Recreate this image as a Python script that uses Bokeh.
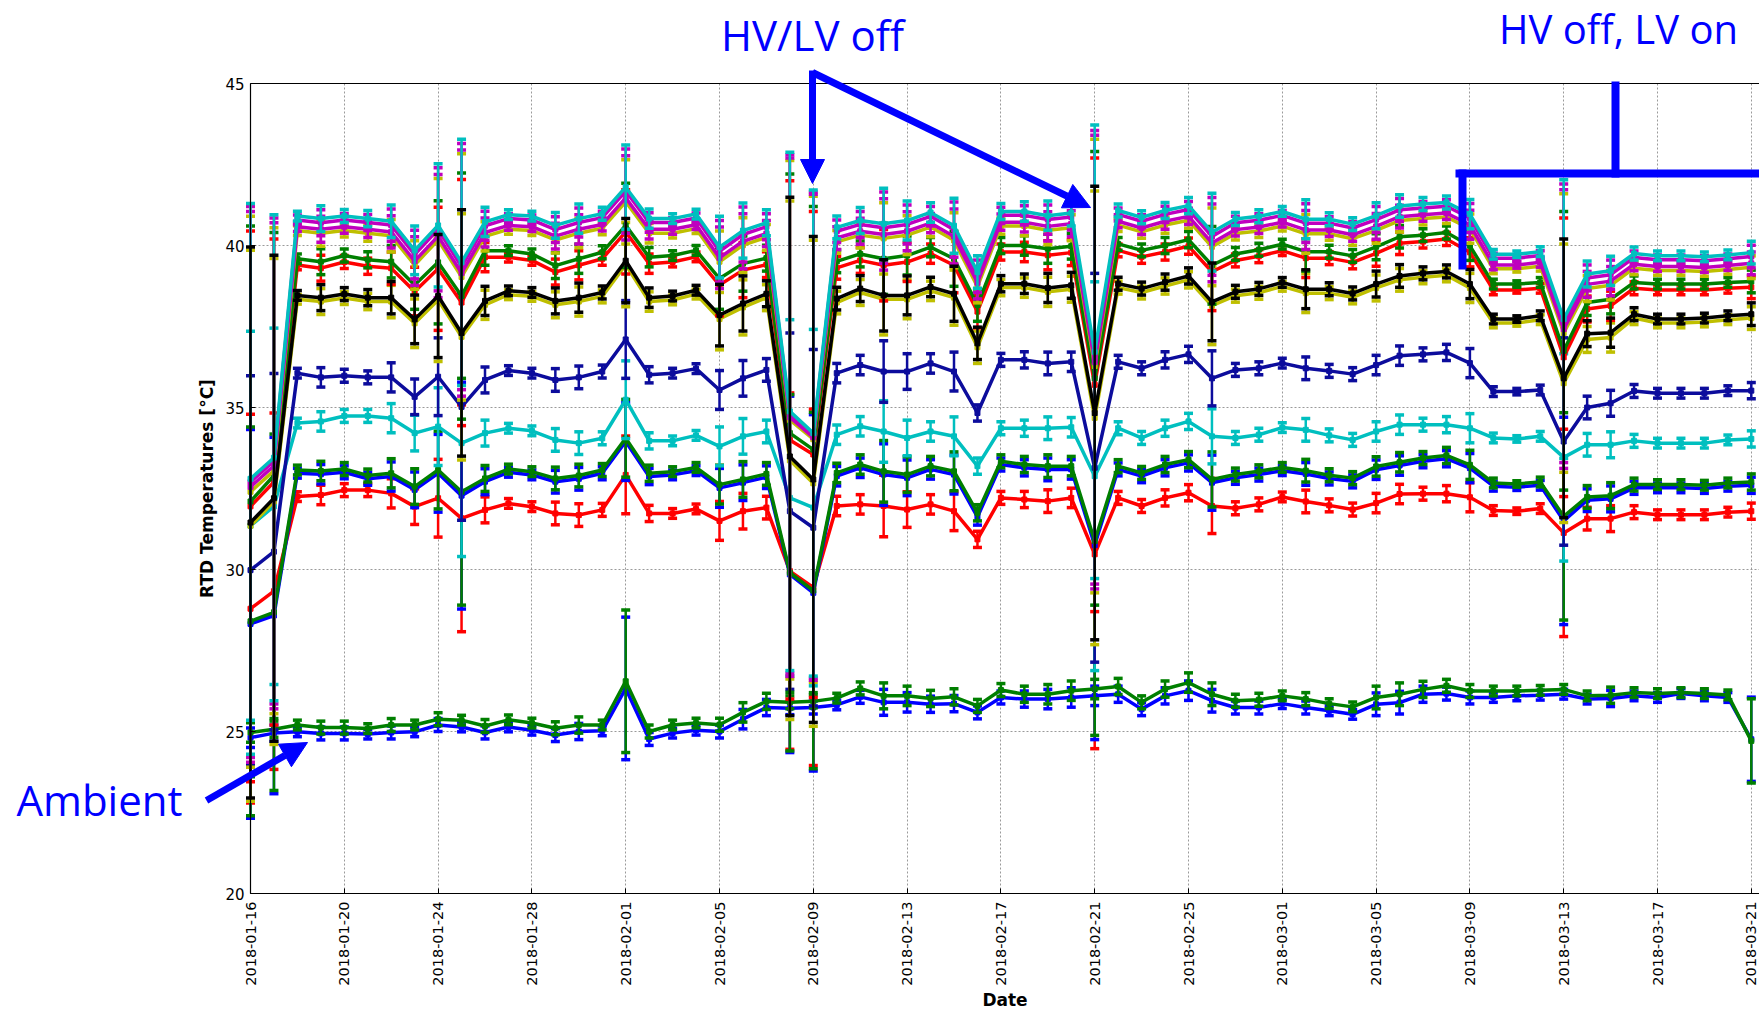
import math
import pandas as pd
from bokeh.plotting import figure
from bokeh.models import Range1d, FixedTicker, LinearAxis, Label, Arrow, NormalHead, Grid
from bokeh.embed import file_html
from bokeh.resources import INLINE

# ---------------- data ----------------
dates = [d.strftime("%Y-%m-%d") for d in pd.date_range("2018-01-16", "2018-03-21", freq="D")]
tick_labels = ["2018-01-16", "2018-01-20", "2018-01-24", "2018-01-28", "2018-02-01",
               "2018-02-05", "2018-02-09", "2018-02-13", "2018-02-17", "2018-02-21",
               "2018-02-25", "2018-03-01", "2018-03-05", "2018-03-09", "2018-03-13",
               "2018-03-17", "2018-03-21"]
y_ticks = [20, 25, 30, 35, 40, 45]

C1 = [32.80, 33.45, 40.91, 40.83, 40.91, 40.83, 40.75, 39.85, 40.62, 39.48,
      40.73, 40.95, 40.91, 40.62, 40.83, 40.98, 41.80, 40.83, 40.83, 40.97,
      39.95, 40.46, 40.70, 34.88, 34.21, 40.56, 40.77, 40.67, 40.77, 41.02,
      40.61, 39.18, 41.05, 41.05, 40.92, 41.00, 36.72, 41.08, 40.87, 41.08,
      41.23, 40.41, 40.82, 40.90, 41.05, 40.81, 40.81, 40.66, 40.92, 41.22,
      41.28, 41.33, 40.97, 39.73, 39.73, 39.81, 37.73, 39.12, 39.22, 39.75,
      39.68, 39.68, 39.65, 39.71, 39.78]
M1 = [32.70, 33.35, 40.79, 40.70, 40.79, 40.71, 40.63, 39.72, 40.50, 39.35,
      40.61, 40.83, 40.79, 40.49, 40.71, 40.86, 41.68, 40.71, 40.71, 40.85,
      39.82, 40.34, 40.58, 34.80, 34.15, 40.44, 40.65, 40.55, 40.65, 40.90,
      40.49, 39.05, 40.93, 40.93, 40.80, 40.88, 36.55, 40.96, 40.75, 40.96,
      41.11, 40.28, 40.70, 40.78, 40.93, 40.69, 40.69, 40.54, 40.80, 41.10,
      41.16, 41.21, 40.85, 39.61, 39.61, 39.69, 37.60, 39.00, 39.10, 39.63,
      39.56, 39.56, 39.53, 39.59, 39.66]
M2 = [32.55, 33.20, 40.58, 40.50, 40.58, 40.50, 40.42, 39.52, 40.29, 39.15,
      40.40, 40.62, 40.58, 40.29, 40.50, 40.65, 41.47, 40.50, 40.50, 40.64,
      39.62, 40.13, 40.37, 34.70, 34.08, 40.23, 40.44, 40.34, 40.44, 40.69,
      40.28, 38.85, 40.72, 40.72, 40.59, 40.67, 36.40, 40.75, 40.54, 40.75,
      40.90, 40.08, 40.49, 40.57, 40.72, 40.48, 40.48, 40.33, 40.59, 40.89,
      40.95, 41.00, 40.64, 39.40, 39.40, 39.48, 37.42, 38.80, 38.90, 39.42,
      39.35, 39.35, 39.32, 39.38, 39.45]
Y1 = [32.40, 33.05, 40.46, 40.38, 40.46, 40.38, 40.30, 39.40, 40.17, 39.03,
      40.28, 40.50, 40.46, 40.17, 40.38, 40.53, 41.35, 40.38, 40.38, 40.52,
      39.50, 40.01, 40.25, 34.62, 34.02, 40.11, 40.32, 40.22, 40.32, 40.57,
      40.16, 38.73, 40.60, 40.60, 40.47, 40.55, 36.28, 40.63, 40.42, 40.63,
      40.78, 39.96, 40.37, 40.45, 40.60, 40.36, 40.36, 40.21, 40.47, 40.77,
      40.83, 40.88, 40.52, 39.28, 39.28, 39.36, 37.30, 38.67, 38.77, 39.30,
      39.23, 39.23, 39.20, 39.26, 39.33]
G1 = [32.10, 32.90, 39.59, 39.50, 39.69, 39.56, 39.50, 38.78, 39.48, 38.44,
      39.84, 39.84, 39.74, 39.38, 39.59, 39.79, 40.62, 39.64, 39.69, 39.85,
      38.98, 39.44, 39.61, 34.21, 33.70, 39.51, 39.74, 39.59, 39.69, 39.95,
      39.59, 38.16, 40.00, 40.00, 39.90, 39.98, 35.90, 40.05, 39.85, 40.00,
      40.18, 39.39, 39.74, 39.87, 40.04, 39.81, 39.81, 39.68, 39.96, 40.27,
      40.32, 40.40, 39.99, 38.81, 38.81, 38.86, 36.75, 38.24, 38.34, 38.86,
      38.81, 38.81, 38.81, 38.86, 38.89]
R1 = [31.95, 32.70, 39.40, 39.30, 39.49, 39.36, 39.30, 38.58, 39.28, 38.24,
      39.64, 39.64, 39.54, 39.18, 39.39, 39.59, 40.42, 39.44, 39.49, 39.65,
      38.78, 39.24, 39.41, 34.00, 33.55, 39.31, 39.54, 39.39, 39.49, 39.75,
      39.39, 37.96, 39.80, 39.80, 39.70, 39.78, 35.70, 39.85, 39.65, 39.80,
      39.98, 39.19, 39.54, 39.67, 39.84, 39.61, 39.61, 39.48, 39.76, 40.07,
      40.12, 40.20, 39.79, 38.63, 38.63, 38.68, 36.55, 38.04, 38.14, 38.68,
      38.63, 38.63, 38.63, 38.68, 38.71]
K = [31.45, 32.20, 38.46, 38.39, 38.50, 38.39, 38.39, 37.72, 38.44, 37.30,
     38.29, 38.60, 38.55, 38.29, 38.39, 38.55, 39.53, 38.39, 38.44, 38.62,
     37.85, 38.21, 38.51, 33.49, 32.78, 38.36, 38.67, 38.46, 38.46, 38.72,
     38.51, 36.98, 38.82, 38.82, 38.69, 38.77, 34.83, 38.82, 38.67, 38.87,
     39.06, 38.26, 38.57, 38.66, 38.86, 38.65, 38.65, 38.52, 38.81, 39.06,
     39.14, 39.20, 38.81, 37.73, 37.73, 37.83, 35.90, 37.28, 37.31, 37.88,
     37.73, 37.73, 37.76, 37.83, 37.88]
Y2 = [31.35, 32.10, 38.34, 38.27, 38.38, 38.27, 38.27, 37.60, 38.32, 37.18,
      38.17, 38.48, 38.43, 38.17, 38.27, 38.43, 39.41, 38.27, 38.32, 38.50,
      37.73, 38.09, 38.39, 33.37, 32.66, 38.24, 38.55, 38.34, 38.34, 38.60,
      38.39, 36.86, 38.70, 38.70, 38.57, 38.65, 34.68, 38.70, 38.55, 38.75,
      38.94, 38.14, 38.45, 38.54, 38.74, 38.53, 38.53, 38.40, 38.69, 38.94,
      39.02, 39.08, 38.69, 37.61, 37.61, 37.71, 35.75, 37.10, 37.16, 37.76,
      37.61, 37.61, 37.64, 37.71, 37.76]
B1 = [29.98, 30.55, 36.06, 35.93, 35.98, 35.93, 35.93, 35.33, 35.95, 35.02,
      35.85, 36.14, 36.06, 35.85, 35.93, 36.11, 37.10, 36.01, 36.06, 36.20,
      35.54, 35.90, 36.16, 31.80, 31.29, 36.06, 36.31, 36.11, 36.11, 36.36,
      36.11, 34.83, 36.47, 36.47, 36.36, 36.41, 33.14, 36.41, 36.21, 36.47,
      36.64, 35.90, 36.16, 36.21, 36.37, 36.21, 36.13, 36.03, 36.31, 36.60,
      36.64, 36.70, 36.37, 35.49, 35.49, 35.54, 33.95, 35.00, 35.13, 35.51,
      35.44, 35.44, 35.44, 35.52, 35.52]
C2 = [31.35, 31.95, 34.52, 34.57, 34.74, 34.74, 34.67, 34.21, 34.41, 33.90,
      34.21, 34.36, 34.28, 34.00, 33.90, 34.05, 35.24, 33.97, 33.97, 34.14,
      33.80, 34.11, 34.26, 32.21, 31.91, 34.16, 34.42, 34.26, 34.06, 34.26,
      34.11, 33.19, 34.36, 34.36, 34.36, 34.39, 32.88, 34.36, 34.06, 34.36,
      34.57, 34.11, 34.06, 34.16, 34.38, 34.31, 34.14, 34.00, 34.26, 34.47,
      34.47, 34.47, 34.36, 34.06, 34.03, 34.11, 33.46, 33.85, 33.85, 33.97,
      33.90, 33.90, 33.90, 34.00, 34.03]
G2 = [28.40, 28.68, 33.07, 33.04, 33.10, 32.90, 32.97, 32.56, 33.07, 32.40,
      32.81, 33.10, 33.02, 32.81, 32.90, 33.07, 34.05, 32.97, 33.02, 33.15,
      32.62, 32.78, 32.95, 29.90, 29.35, 32.98, 33.24, 33.03, 32.93, 33.19,
      33.03, 31.75, 33.34, 33.24, 33.19, 33.19, 30.88, 33.19, 32.98, 33.24,
      33.39, 32.78, 32.93, 33.03, 33.15, 33.05, 32.91, 32.82, 33.18, 33.31,
      33.44, 33.52, 33.23, 32.67, 32.64, 32.70, 31.64, 32.24, 32.28, 32.62,
      32.62, 32.62, 32.60, 32.67, 32.70]
B2 = [28.32, 28.58, 32.97, 32.94, 33.00, 32.80, 32.87, 32.46, 32.97, 32.28,
      32.71, 33.00, 32.92, 32.71, 32.80, 32.97, 33.95, 32.87, 32.92, 33.05,
      32.52, 32.68, 32.85, 29.85, 29.28, 32.88, 33.14, 32.93, 32.83, 33.09,
      32.93, 31.62, 33.24, 33.14, 33.09, 33.09, 30.75, 33.09, 32.88, 33.14,
      33.29, 32.68, 32.83, 32.93, 33.05, 32.95, 32.81, 32.72, 33.08, 33.21,
      33.34, 33.42, 33.13, 32.57, 32.54, 32.60, 31.50, 32.14, 32.18, 32.52,
      32.52, 32.52, 32.50, 32.57, 32.60]
R2 = [28.79, 29.33, 32.25, 32.30, 32.45, 32.45, 32.35, 31.94, 32.20, 31.58,
      31.84, 32.04, 31.94, 31.73, 31.68, 31.84, 32.92, 31.73, 31.73, 31.87,
      31.50, 31.80, 31.91, 29.95, 29.45, 31.96, 32.01, 31.96, 31.85, 32.01,
      31.80, 30.93, 32.21, 32.16, 32.11, 32.21, 30.47, 32.21, 31.96, 32.21,
      32.37, 31.96, 31.89, 32.01, 32.24, 32.10, 31.98, 31.85, 32.05, 32.33,
      32.34, 32.34, 32.23, 31.82, 31.80, 31.88, 31.13, 31.57, 31.57, 31.77,
      31.69, 31.69, 31.69, 31.77, 31.80]
GA = [24.97, 25.07, 25.20, 25.12, 25.12, 25.09, 25.20, 25.20, 25.38, 25.35,
      25.17, 25.36, 25.26, 25.10, 25.20, 25.20, 26.55, 25.00, 25.20, 25.26,
      25.21, 25.59, 25.93, 25.90, 25.93, 26.03, 26.33, 26.10, 26.10, 26.02,
      26.07, 25.79, 26.28, 26.15, 26.15, 26.26, 26.31, 26.39, 25.90, 26.31,
      26.51, 26.15, 25.95, 25.98, 26.10, 26.00, 25.86, 25.76, 26.05, 26.15,
      26.30, 26.41, 26.25, 26.25, 26.25, 26.27, 26.30, 26.10, 26.12, 26.20,
      26.17, 26.20, 26.17, 26.13, 24.71]
BA = [24.81, 24.95, 24.99, 24.94, 24.94, 24.92, 24.97, 24.99, 25.20, 25.14,
      24.97, 25.14, 25.04, 24.89, 25.00, 25.02, 26.33, 24.77, 24.95, 25.04,
      25.00, 25.38, 25.74, 25.72, 25.74, 25.82, 26.07, 25.90, 25.90, 25.84,
      25.86, 25.59, 26.05, 26.00, 26.00, 26.05, 26.10, 26.15, 25.69, 26.10,
      26.26, 25.95, 25.74, 25.74, 25.86, 25.74, 25.64, 25.53, 25.84, 25.89,
      26.15, 26.17, 26.05, 26.05, 26.10, 26.12, 26.15, 26.00, 26.02, 26.10,
      26.05, 26.17, 26.10, 26.05, 24.76]

err_hi = [8.5, 7.5, 0.15, 0.4, 0.2, 0.25, 0.5, 0.75, 1.9, 3.8,
          0.45, 0.15, 0.15, 0.4, 0.45, 0.2, 1.3, 0.3, 0.15, 0.15,
          0.95, 0.85, 0.4, 8.0, 7.5, 0.35, 0.4, 1.1, 0.6, 0.3,
          0.85, 0.5, 0.25, 0.3, 0.45, 0.4, 7.0, 0.2, 0.2, 0.25,
          0.25, 1.2, 0.2, 0.2, 0.15, 0.6, 0.2, 0.2, 0.4, 0.35,
          0.2, 0.2, 0.45, 0.15, 0.1, 0.15, 4.3, 0.4, 0.45, 0.2,
          0.15, 0.15, 0.15, 0.15, 0.35]
err_mid = [6.0, 5.5, 0.15, 0.3, 0.2, 0.2, 0.45, 0.55, 1.2, 3.5,
           0.4, 0.15, 0.15, 0.35, 0.35, 0.2, 1.2, 0.25, 0.15, 0.15,
           0.6, 0.55, 0.35, 5.5, 5.5, 0.3, 0.3, 0.95, 0.55, 0.3,
           0.6, 0.25, 0.2, 0.25, 0.35, 0.3, 6.0, 0.2, 0.2, 0.25,
           0.25, 0.85, 0.2, 0.2, 0.15, 0.35, 0.2, 0.2, 0.3, 0.3,
           0.2, 0.25, 0.45, 0.15, 0.1, 0.15, 3.2, 0.35, 0.4, 0.2,
           0.15, 0.15, 0.15, 0.15, 0.25]
err_amb = [0.3, 0.25, 0.15, 0.2, 0.2, 0.15, 0.2, 0.15, 0.2, 0.15,
           0.2, 0.15, 0.15, 0.2, 0.25, 0.15, 2.2, 0.2, 0.15, 0.15,
           0.2, 0.3, 0.25, 0.2, 0.2, 0.15, 0.2, 0.4, 0.3, 0.25,
           0.25, 0.2, 0.2, 0.25, 0.3, 0.3, 0.3, 0.25, 0.2, 0.25,
           0.3, 0.35, 0.2, 0.2, 0.15, 0.2, 0.15, 0.15, 0.35, 0.35,
           0.25, 0.2, 0.2, 0.15, 0.15, 0.15, 0.15, 0.15, 0.25, 0.15,
           0.15, 0.15, 0.15, 0.15, 1.3]

BLUE = "#0000ff"
GREEN = "#007f00"
RED = "#ff0000"
CYAN = "#00bfbf"
MAG = "#bf00bf"
YEL = "#bfbf00"
BLACK = "#000000"
NAVY = "#0c0c9c"

series = [
    (BA, err_amb, BLUE), (GA, err_amb, GREEN),
    (R2, err_mid, RED), (B2, err_mid, BLUE), (G2, err_mid, GREEN),
    (C2, err_mid, CYAN), (B1, err_mid, NAVY),
    (Y2, err_hi, YEL), (R1, err_hi, RED), (G1, err_hi, GREEN),
    (Y1, err_hi, YEL), (M2, err_hi, MAG), (M1, err_hi, MAG), (C1, err_hi, CYAN),
    (K, err_hi, BLACK),
]

# ---------------- geometry (frame = whole canvas) ----------------
W, H = 1759, 1009
LEFT, TOP, BOTTOM = 250, 83, 116          # pixel position of the data area
PX_DAY = 23.45
PX_DEG = (H - TOP - BOTTOM) / 25.0

def dx(px):
    return (px - LEFT) / PX_DAY

def dy(py):
    return 45 - (py - TOP) / PX_DEG

x_last = dx(W)

p = figure(width=W, height=H, output_backend="svg", toolbar_location=None,
           x_range=Range1d(dx(0), dx(W)), y_range=Range1d(dy(H), dy(0)),
           x_axis_location=None, y_axis_location=None,
           min_border=0, min_border_left=0, min_border_right=0,
           min_border_top=0, min_border_bottom=0,
           background_fill_color="white", border_fill_color="white",
           outline_line_color=None)
p.grid.visible = False

tick_pos = [dates.index(t) for t in tick_labels]

# grid
GRID_KW = dict(grid_line_color="#9a9a9a", grid_line_dash="2 2", grid_line_width=1)
if "cross_bounds" in Grid.properties():
    p.add_layout(Grid(dimension=0, ticker=FixedTicker(ticks=tick_pos), bounds=(0, x_last),
                      cross_bounds=(20, 45), **GRID_KW), "center")
    p.add_layout(Grid(dimension=1, ticker=FixedTicker(ticks=y_ticks), bounds=(20, 45),
                      cross_bounds=(0, x_last), **GRID_KW), "center")
else:
    p.segment(x0=tick_pos, y0=[20] * len(tick_pos), x1=tick_pos, y1=[45] * len(tick_pos),
              line_color="#9a9a9a", line_dash="2 2", line_width=1)
    p.segment(x0=[0] * len(y_ticks), y0=y_ticks, x1=[x_last] * len(y_ticks), y1=y_ticks,
              line_color="#9a9a9a", line_dash="2 2", line_width=1)

xs = list(range(len(dates)))
for vals, err, col in series:
    lo = [v - e for v, e in zip(vals, err)]
    hi = [v + e for v, e in zip(vals, err)]
    p.segment(x0=xs, y0=lo, x1=xs, y1=hi, line_color=col, line_width=2.5)
    p.line(xs, vals, line_color=col, line_width=3.5)
    p.rect(x=xs + xs, y=lo + hi, width=9, height=3.5, width_units="screen",
           height_units="screen", fill_color=col, line_color=None)
    p.scatter(xs, vals, marker="square", size=5, fill_color=col, line_color=col)

# axes drawn at fixed data locations
AX_KW = dict(axis_line_color="black", axis_line_width=1.2, major_tick_in=5, major_tick_out=0,
             minor_tick_line_color=None, major_label_text_font="DejaVu Sans",
             major_label_text_color="black", axis_label_text_font="DejaVu Sans",
             axis_label_text_font_style="bold", axis_label_text_font_size="17px",
             axis_label_text_color="black")
xaxis = LinearAxis(fixed_location=20, bounds=(0, x_last), ticker=FixedTicker(ticks=tick_pos),
                   major_label_overrides={i: t for i, t in zip(tick_pos, tick_labels)},
                   major_label_orientation=math.pi / 2, major_label_text_font_size="14.5px",
                   major_label_standoff=8, axis_label="Date", axis_label_standoff=1, **AX_KW)
p.add_layout(xaxis, "below")
yaxis = LinearAxis(fixed_location=0, bounds=(20, 45), ticker=FixedTicker(ticks=y_ticks),
                   major_label_text_font_size="15px", major_label_standoff=6,
                   axis_label="RTD Temperatures [°C]", axis_label_standoff=5, **AX_KW)
p.add_layout(yaxis, "left")
topaxis = LinearAxis(fixed_location=45, bounds=(0, x_last), ticker=FixedTicker(ticks=[]),
                     axis_line_color="black", axis_line_width=1.2,
                     major_tick_line_color=None, minor_tick_line_color=None)
p.add_layout(topaxis, "above")

# ---------------- annotations ----------------
ANN = "#0000ff"
for txt, cx, base, fs in [("HV/LV off", 812, 34, "42px"), ("HV off, LV on", 1618, 28, "40px"),
                          ("Ambient", 99, 799, "42px")]:
    p.add_layout(Label(x=dx(cx), y=dy(base), text=txt, text_font="Open Sans",
                       text_font_size=fs, text_color=ANN, text_align="center",
                       text_baseline="alphabetic"))

def head(size):
    return NormalHead(size=size, fill_color=ANN, line_color=ANN, line_width=1)

p.add_layout(Arrow(end=head(24), x_start=dx(812), y_start=dy(70), x_end=dx(812), y_end=dy(183),
                   line_color=ANN, line_width=7))
p.add_layout(Arrow(end=head(26), x_start=dx(812), y_start=dy(72), x_end=dx(1090), y_end=dy(207),
                   line_color=ANN, line_width=7))
p.add_layout(Arrow(end=head(26), x_start=dx(206), y_start=dy(800), x_end=dx(307), y_end=dy(742),
                   line_color=ANN, line_width=7))
for (x0, y0, x1, y1) in [(1615, 85, 1615, 173), (1459, 173, 1759, 173), (1462, 173, 1462, 265)]:
    p.add_layout(Arrow(end=None, x_start=dx(x0), y_start=dy(y0), x_end=dx(x1), y_end=dy(y1),
                       line_color=ANN, line_width=8, line_cap="square"))

open("out.html", "w").write(file_html(p, INLINE))
